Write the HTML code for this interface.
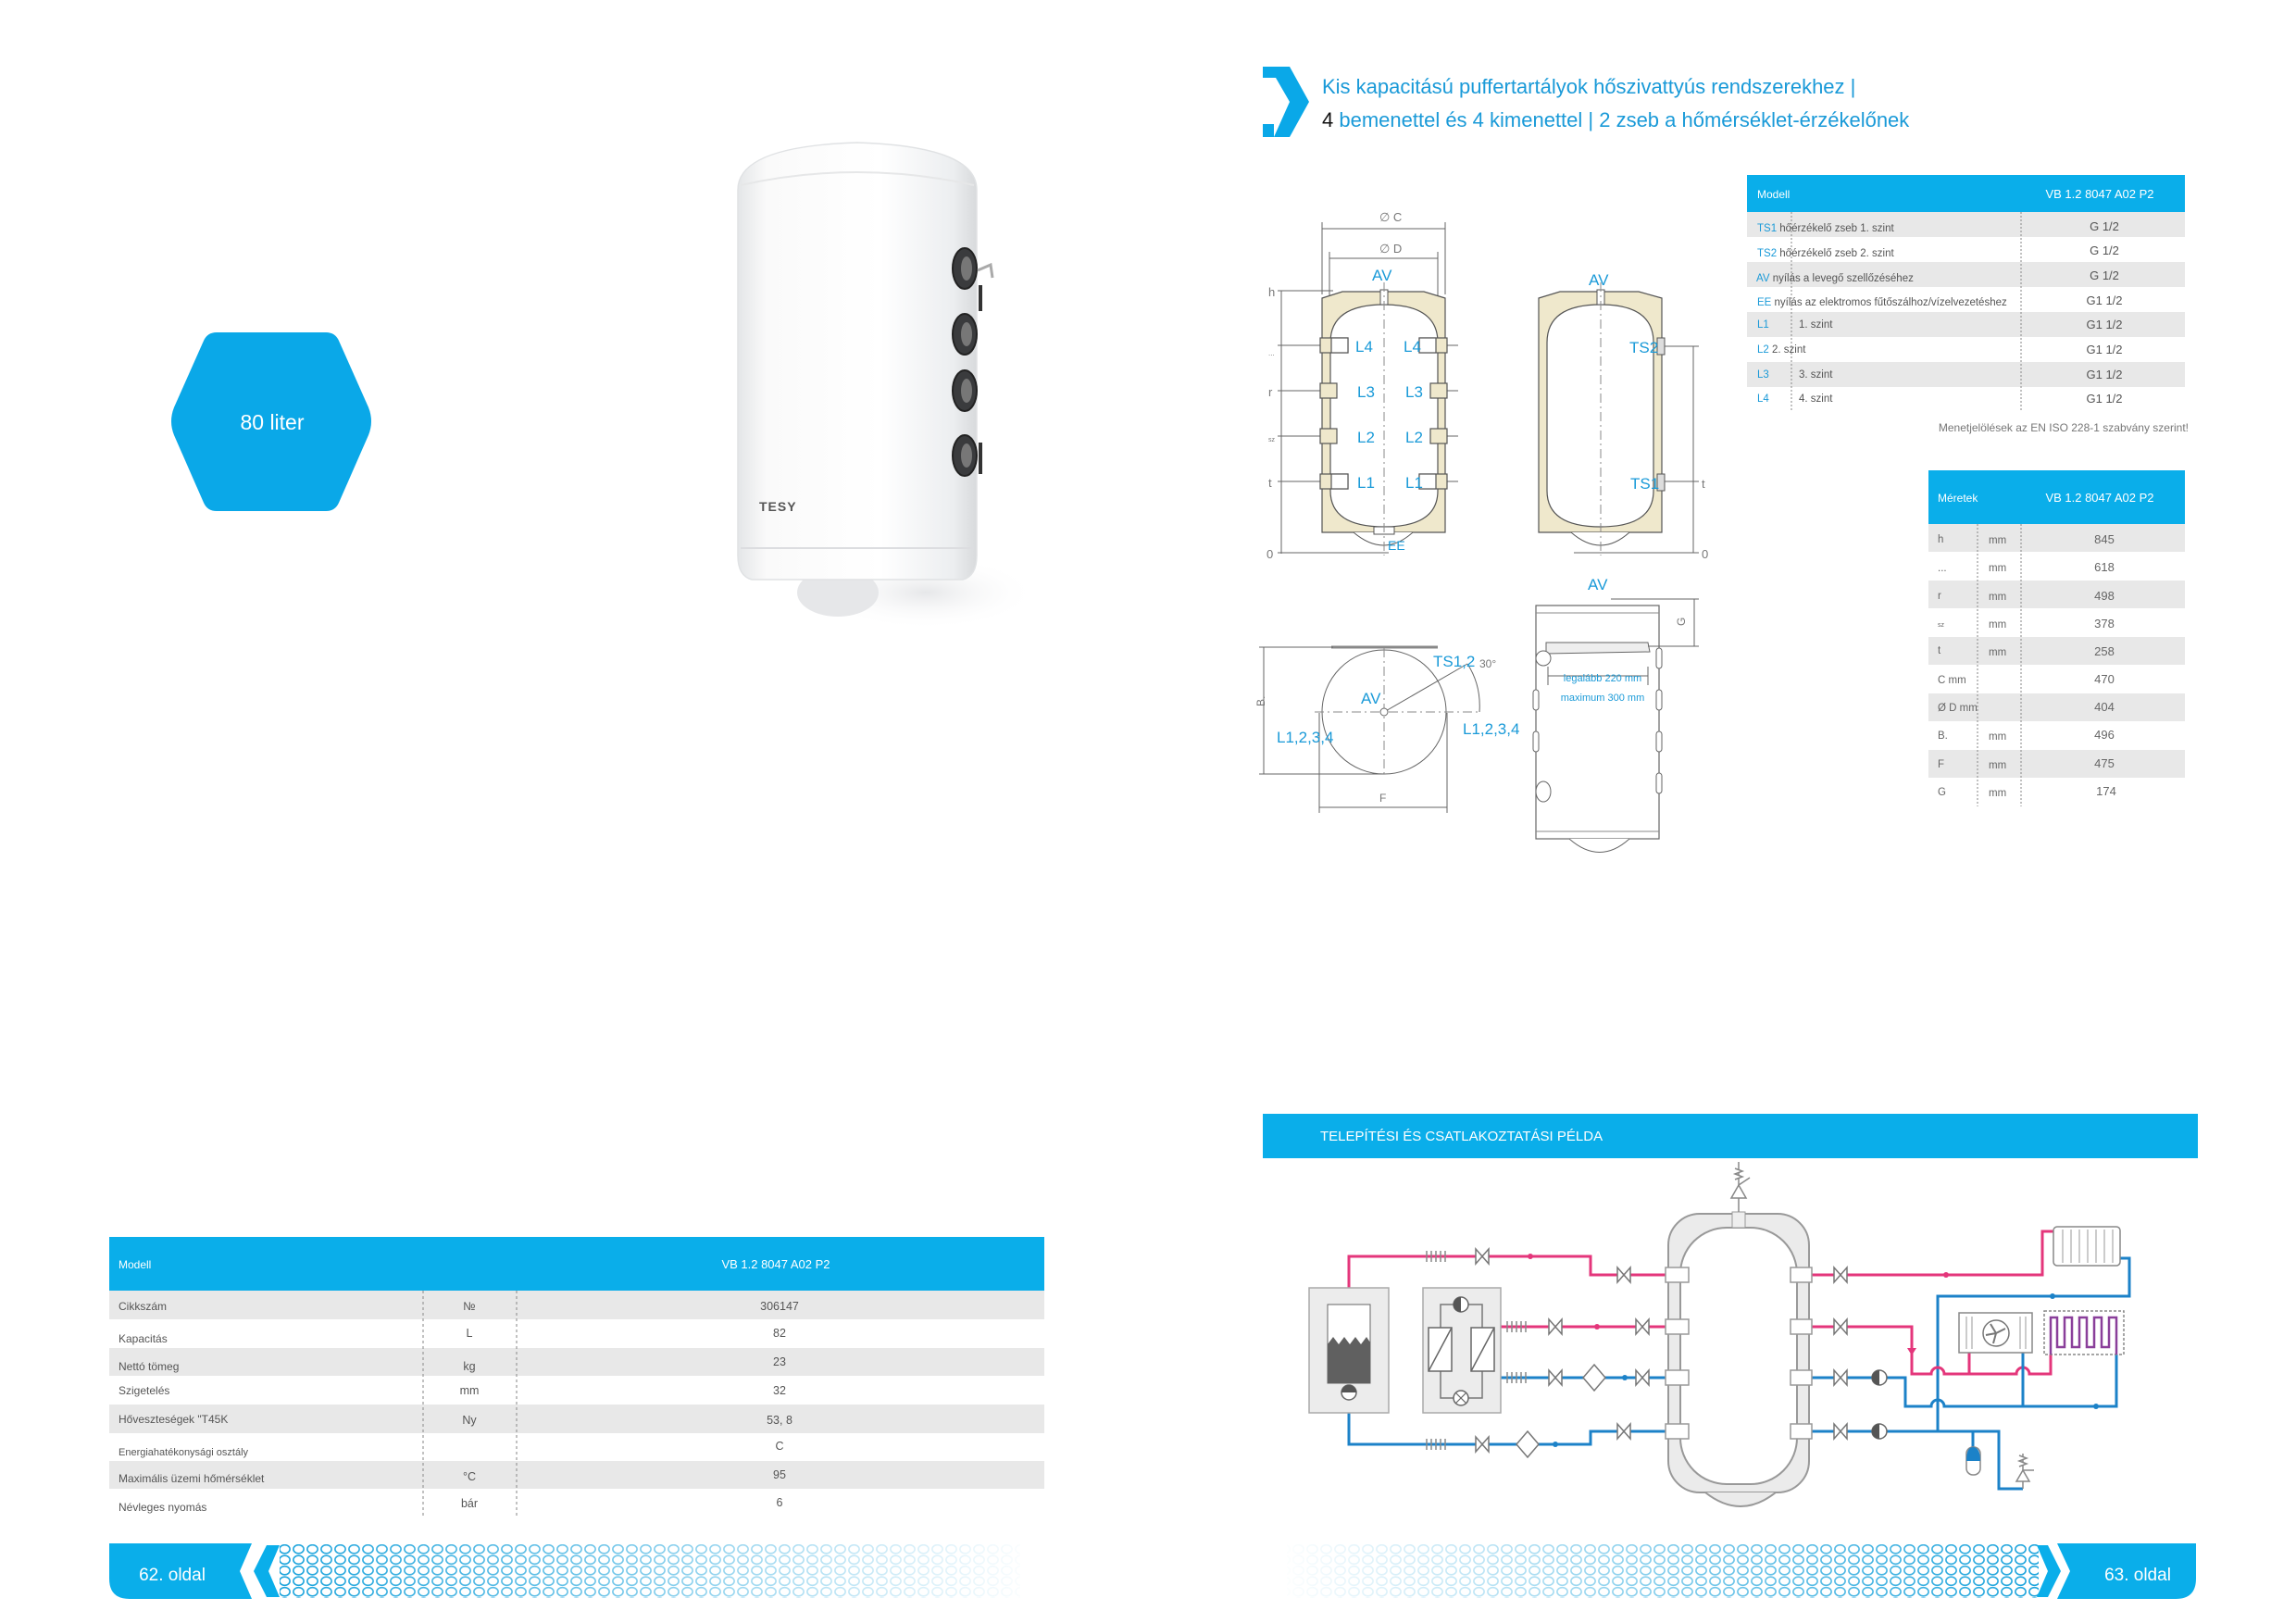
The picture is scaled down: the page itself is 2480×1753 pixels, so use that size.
<!DOCTYPE html>
<html><head><meta charset="utf-8"><style>
html,body{margin:0;padding:0;background:#fff;}
svg{display:block;font-family:"Liberation Sans",sans-serif;}
</style></head><body>
<svg width="2480" height="1753" viewBox="0 0 2480 1753" xmlns="http://www.w3.org/2000/svg">
<defs>
<pattern id="hc" width="15" height="11.5" patternUnits="userSpaceOnUse">
<ellipse cx="7.5" cy="5.75" rx="5.6" ry="4.6" fill="none" stroke="#1aa3dc" stroke-width="1.6"/>
</pattern>
<linearGradient id="gl" x1="0" x2="1" y1="0" y2="0"><stop offset="0" stop-color="#fff" stop-opacity="1"/><stop offset="0.45" stop-color="#fff" stop-opacity="0.6"/><stop offset="1" stop-color="#fff" stop-opacity="0"/></linearGradient>
<linearGradient id="gr" x1="1" x2="0" y1="0" y2="0"><stop offset="0" stop-color="#fff" stop-opacity="1"/><stop offset="0.45" stop-color="#fff" stop-opacity="0.6"/><stop offset="1" stop-color="#fff" stop-opacity="0"/></linearGradient>
<mask id="ml"><rect x="300" y="1660" width="820" height="75" fill="url(#gl)"/></mask>
<mask id="mr"><rect x="1380" y="1660" width="830" height="75" fill="url(#gr)"/></mask>
<linearGradient id="body" x1="0" x2="1"><stop offset="0" stop-color="#e4e6e8"/><stop offset="0.12" stop-color="#fafafa"/><stop offset="0.6" stop-color="#ffffff"/><stop offset="0.9" stop-color="#eceef0"/><stop offset="1" stop-color="#d8dadc"/></linearGradient>
<radialGradient id="sh"><stop offset="0" stop-color="#e6e7e9"/><stop offset="1" stop-color="#fff" stop-opacity="0"/></radialGradient>
</defs>

<!-- hexagon -->
<path d="M188,440 L220,368 Q224,359 234,359 L352,359 Q362,359 366,368 L398,440 Q404,455 398,470 L366,543 Q362,552 352,552 L234,552 Q224,552 220,543 L188,470 Q182,455 188,440 Z" fill="#0aa8e8"/>
<text x="294" y="464" font-size="23" fill="#fff" text-anchor="middle">80 liter</text>

<!-- tank photo -->
<ellipse cx="1000" cy="640" rx="120" ry="40" fill="url(#sh)"/>
<ellipse cx="905" cy="640" rx="44" ry="26" fill="#e6e7e9"/>
<path d="M797,205 Q797,158 926,154 Q1055,158 1055,205 L1055,600 Q1055,622 1040,626 L812,626 Q797,622 797,600 Z" fill="url(#body)" stroke="#e0e2e4" stroke-width="1.5"/>
<path d="M800,200 Q926,172 1052,200" fill="none" stroke="#e6e7e8" stroke-width="2"/>
<path d="M800,592 L1052,592" stroke="#dcdde0" stroke-width="2"/>
<g fill="#3a3b3d" stroke="#222" stroke-width="2">
<ellipse cx="1042" cy="290" rx="13" ry="22"/><ellipse cx="1042" cy="361" rx="13" ry="22"/><ellipse cx="1042" cy="422" rx="13" ry="22"/><ellipse cx="1042" cy="492" rx="13" ry="22"/>
</g>
<g fill="#777"><ellipse cx="1044" cy="290" rx="6" ry="13"/><ellipse cx="1044" cy="361" rx="6" ry="13"/><ellipse cx="1044" cy="422" rx="6" ry="13"/><ellipse cx="1044" cy="492" rx="6" ry="13"/></g>
<rect x="1057" y="308" width="4" height="28" fill="#333"/><rect x="1057" y="478" width="4" height="34" fill="#333"/>
<path d="M1056,292 L1070,286 L1072,300" fill="none" stroke="#aaa" stroke-width="3"/>
<text x="820" y="552" font-size="14" font-weight="bold" fill="#555" letter-spacing="1">TESY</text>

<!-- title -->
<path d="M1364,72 L1393,72 L1414,110 L1393,148 L1376,148 L1393,110 L1378,84 L1364,84 Z" fill="#0aa8e8"/>
<rect x="1364" y="134" width="12" height="14" fill="#0aa8e8"/>
<text x="1428" y="101" font-size="22" fill="#1a9ad8">Kis kapacitású puffertartályok hőszivattyús rendszerekhez |</text>
<text x="1428" y="137" font-size="22" fill="#1a9ad8"><tspan fill="#111">4</tspan> bemenettel és 4 kimenettel | 2 zseb a hőmérséklet-érzékelőnek</text>

<!-- table 1 -->
<rect x="1887" y="189" width="473" height="40" fill="#0aaeea"/>
<text x="1898" y="214" font-size="12" fill="#fff">Modell</text>
<text x="2268" y="214" font-size="13" fill="#fff" text-anchor="middle">VB 1.2 8047 A02 P2</text>
<g fill="#e8e8e8">
<rect x="1887" y="229" width="473" height="27"/><rect x="1887" y="283" width="473" height="27"/><rect x="1887" y="337" width="473" height="27"/><rect x="1887" y="391" width="473" height="27"/>
</g>
<g stroke="#999" stroke-width="1.2" stroke-dasharray="2,2"><line x1="1935" y1="229" x2="1935" y2="445"/><line x1="2183" y1="229" x2="2183" y2="445"/></g>
<g font-size="11.5" fill="#555">
<text x="1898" y="250"><tspan fill="#1a9ad8">TS1</tspan> hőérzékelő zseb 1. szint</text>
<text x="1898" y="277"><tspan fill="#1a9ad8">TS2</tspan> hőérzékelő zseb 2. szint</text>
<text x="1897" y="304"><tspan fill="#1a9ad8">AV</tspan> nyílás a levegő szellőzéséhez</text>
<text x="1898" y="330"><tspan fill="#1a9ad8">EE</tspan> nyílás az elektromos fűtőszálhoz/vízelvezetéshez</text>
<text x="1898" y="354"><tspan fill="#1a9ad8">L1</tspan></text><text x="1943" y="354">1. szint</text>
<text x="1898" y="381"><tspan fill="#1a9ad8">L2</tspan> 2. szint</text>
<text x="1898" y="408"><tspan fill="#1a9ad8">L3</tspan></text><text x="1943" y="408">3. szint</text>
<text x="1898" y="434"><tspan fill="#1a9ad8">L4</tspan></text><text x="1943" y="434">4. szint</text>
</g>
<g font-size="13" fill="#555" text-anchor="middle">
<text x="2273" y="249">G 1/2</text><text x="2273" y="275">G 1/2</text><text x="2273" y="302">G 1/2</text><text x="2273" y="329">G1 1/2</text><text x="2273" y="355">G1 1/2</text><text x="2273" y="382">G1 1/2</text><text x="2273" y="409">G1 1/2</text><text x="2273" y="435">G1 1/2</text>
</g>
<text x="2364" y="466" font-size="12" fill="#777" text-anchor="end">Menetjelölések az EN ISO 228-1 szabvány szerint!</text>

<!-- table 2 -->
<rect x="2083" y="508" width="277" height="58" fill="#0aaeea"/>
<text x="2093" y="542" font-size="12" fill="#fff">Méretek</text>
<text x="2268" y="542" font-size="13" fill="#fff" text-anchor="middle">VB 1.2 8047 A02 P2</text>
<g fill="#e8e8e8">
<rect x="2083" y="566" width="277" height="30"/><rect x="2083" y="627" width="277" height="30"/><rect x="2083" y="688" width="277" height="30"/><rect x="2083" y="749" width="277" height="30"/><rect x="2083" y="810" width="277" height="30"/>
</g>
<g stroke="#999" stroke-width="1.2" stroke-dasharray="2,2"><line x1="2136" y1="566" x2="2136" y2="871"/><line x1="2183" y1="566" x2="2183" y2="871"/></g>
<g font-size="11.5" fill="#666">
<text x="2093" y="586">h</text><text x="2093" y="617">...</text><text x="2093" y="647">r</text><text x="2093" y="677" font-size="7">sz</text><text x="2093" y="706">t</text><text x="2093" y="738">C mm</text><text x="2093" y="768">Ø D mm</text><text x="2093" y="798">B.</text><text x="2093" y="829">F</text><text x="2093" y="859">G</text>
<text x="2148" y="587">mm</text><text x="2148" y="617">mm</text><text x="2148" y="648">mm</text><text x="2148" y="678">mm</text><text x="2148" y="708">mm</text><text x="2148" y="799">mm</text><text x="2148" y="830">mm</text><text x="2148" y="860">mm</text>
</g>
<g font-size="13" fill="#666" text-anchor="middle">
<text x="2273" y="587">845</text><text x="2273" y="617">618</text><text x="2273" y="648">498</text><text x="2273" y="678">378</text><text x="2273" y="708">258</text><text x="2273" y="738">470</text><text x="2273" y="768">404</text><text x="2273" y="798">496</text><text x="2273" y="829">475</text><text x="2275" y="859">174</text>
</g>

<!-- technical drawings -->
<g stroke="#666" stroke-width="1" fill="none">
<line x1="1428" y1="247" x2="1561" y2="247"/><line x1="1436" y1="279" x2="1553" y2="279"/>
<line x1="1428" y1="240" x2="1428" y2="318"/><line x1="1561" y1="240" x2="1561" y2="318"/>
<line x1="1436" y1="272" x2="1436" y2="330"/><line x1="1553" y1="272" x2="1553" y2="330"/>
<line x1="1384" y1="314" x2="1384" y2="598"/><line x1="1380" y1="314" x2="1440" y2="314"/>
<line x1="1380" y1="597" x2="1500" y2="597"/>
<line x1="1380" y1="373" x2="1575" y2="373"/><line x1="1380" y1="422" x2="1575" y2="422"/><line x1="1380" y1="471" x2="1575" y2="471"/><line x1="1380" y1="520" x2="1575" y2="520"/>
</g>
<g font-size="13" fill="#777">
<text x="1490" y="239">∅ C</text><text x="1490" y="273">∅ D</text>
<text x="1370" y="320">h</text><text x="1370" y="384" font-size="8">...</text><text x="1370" y="428">r</text><text x="1370" y="477" font-size="7">sz</text><text x="1370" y="526">t</text><text x="1368" y="603">0</text>
</g>
<path d="M1428,322 L1450,315 L1538,315 L1561,322 L1561,575 L1428,575 Z" fill="#efe8cc" stroke="#555" stroke-width="1.2"/>
<path d="M1437,370 Q1437,329 1495,329 Q1553,329 1553,370 L1553,530 Q1553,569 1495,569 Q1437,569 1437,530 Z" fill="#fff" stroke="#555" stroke-width="1.2"/>
<path d="M1462,575 Q1495,603 1526,575" fill="#fff" stroke="#555"/>
<rect x="1491" y="313" width="8" height="16" fill="#fff" stroke="#555"/>
<rect x="1484" y="569" width="22" height="8" fill="#fff" stroke="#555"/>
<line x1="1495" y1="305" x2="1495" y2="600" stroke="#888" stroke-dasharray="10,4,2,4"/>
<g fill="#efe8cc" stroke="#555" stroke-width="1.2">
<rect x="1426" y="365" width="30" height="16"/><rect x="1438" y="365" width="18" height="16" fill="#fff"/>
<rect x="1426" y="414" width="18" height="16"/><rect x="1426" y="463" width="18" height="16"/>
<rect x="1426" y="512" width="30" height="16"/><rect x="1438" y="512" width="18" height="16" fill="#fff"/>
<rect x="1533" y="365" width="30" height="16"/><rect x="1533" y="365" width="18" height="16" fill="#fff"/>
<rect x="1545" y="414" width="18" height="16"/><rect x="1545" y="463" width="18" height="16"/>
<rect x="1533" y="512" width="30" height="16"/><rect x="1533" y="512" width="18" height="16" fill="#fff"/>
</g>
<g font-size="17" fill="#1a9ad8">
<text x="1482" y="303">AV</text>
<text x="1464" y="380">L4</text><text x="1516" y="380">L4</text>
<text x="1466" y="429">L3</text><text x="1518" y="429">L3</text>
<text x="1466" y="478">L2</text><text x="1518" y="478">L2</text>
<text x="1466" y="527">L1</text><text x="1518" y="527">L1</text>
<text x="1499" y="594" font-size="14">EE</text>
</g>
<path d="M1662,322 L1685,315 L1770,315 L1795,322 L1795,575 L1662,575 Z" fill="#efe8cc" stroke="#555" stroke-width="1.2"/>
<path d="M1671,370 Q1671,329 1729,329 Q1786,329 1786,370 L1786,530 Q1786,569 1729,569 Q1671,569 1671,530 Z" fill="#fff" stroke="#555" stroke-width="1.2"/>
<path d="M1697,575 Q1729,603 1760,575" fill="#fff" stroke="#555"/>
<rect x="1725" y="313" width="8" height="16" fill="#fff" stroke="#555"/>
<line x1="1729" y1="305" x2="1729" y2="600" stroke="#888" stroke-dasharray="10,4,2,4"/>
<rect x="1790" y="365" width="8" height="18" fill="#ddd" stroke="#555"/><rect x="1790" y="512" width="8" height="18" fill="#ddd" stroke="#555"/>
<g stroke="#666" fill="none"><line x1="1798" y1="374" x2="1835" y2="374"/><line x1="1798" y1="520" x2="1835" y2="520"/><line x1="1829" y1="374" x2="1829" y2="597"/><line x1="1700" y1="597" x2="1835" y2="597"/></g>
<g font-size="17" fill="#1a9ad8"><text x="1716" y="308">AV</text><text x="1760" y="381">TS2</text><text x="1761" y="528">TS1</text></g>
<g font-size="13" fill="#777"><text x="1838" y="527">t</text><text x="1838" y="603">0</text></g>
<g stroke="#666" fill="none">
<line x1="1438" y1="699" x2="1553" y2="699" stroke-width="3" stroke="#888"/>
<circle cx="1495" cy="769" r="67" fill="#fff"/>
<line x1="1495" y1="700" x2="1495" y2="836" stroke-dasharray="10,4,2,4" stroke="#888"/>
<line x1="1420" y1="769" x2="1600" y2="769" stroke-dasharray="10,4,2,4" stroke="#888"/>
<line x1="1495" y1="769" x2="1585" y2="717"/>
<path d="M1585,717 Q1600,740 1598,769"/>
<line x1="1365" y1="699" x2="1365" y2="836"/><line x1="1360" y1="699" x2="1440" y2="699"/><line x1="1360" y1="836" x2="1495" y2="836"/>
<line x1="1425" y1="872" x2="1563" y2="872"/><line x1="1425" y1="770" x2="1425" y2="878"/><line x1="1563" y1="770" x2="1563" y2="878"/>
</g>
<circle cx="1495" cy="769" r="4" fill="#fff" stroke="#666"/>
<g font-size="17" fill="#1a9ad8"><text x="1470" y="760">AV</text><text x="1548" y="720">TS1,2</text><text x="1379" y="802">L1,2,3,4</text><text x="1580" y="793">L1,2,3,4</text></g>
<g font-size="12" fill="#777"><text x="1598" y="721">30°</text><text x="1490" y="866">F</text><text x="1366" y="763" transform="rotate(-90 1366 763)">B.</text></g>
<rect x="1659" y="654" width="133" height="252" fill="#fff" stroke="#666" stroke-width="1.2"/>
<line x1="1659" y1="662" x2="1792" y2="662" stroke="#888"/><line x1="1659" y1="898" x2="1792" y2="898" stroke="#888"/>
<path d="M1695,906 Q1728,935 1760,906" fill="#fff" stroke="#666"/>
<path d="M1670,694 L1780,694 L1782,704 L1670,706 Z" fill="#eee" stroke="#666"/>
<circle cx="1667" cy="711" r="8" fill="#fff" stroke="#666"/><ellipse cx="1667" cy="855" rx="8" ry="11" fill="#fff" stroke="#666"/>
<g stroke="#666" fill="none"><line x1="1672" y1="730" x2="1780" y2="730"/><line x1="1672" y1="720" x2="1672" y2="740"/><line x1="1780" y1="720" x2="1780" y2="740"/>
<line x1="1740" y1="647" x2="1835" y2="647"/><line x1="1780" y1="698" x2="1835" y2="698"/><line x1="1830" y1="647" x2="1830" y2="698"/></g>
<g fill="#fff" stroke="#666"><rect x="1789" y="700" width="6" height="22" rx="3"/><rect x="1789" y="745" width="6" height="22" rx="3"/><rect x="1789" y="790" width="6" height="22" rx="3"/><rect x="1789" y="835" width="6" height="22" rx="3"/><rect x="1656" y="745" width="6" height="22" rx="3"/><rect x="1656" y="790" width="6" height="22" rx="3"/></g>
<text x="1715" y="637" font-size="17" fill="#1a9ad8">AV</text>
<text x="1731" y="736" font-size="11" fill="#1a9ad8" text-anchor="middle">legalább 220 mm</text>
<text x="1731" y="757" font-size="11" fill="#1a9ad8" text-anchor="middle">maximum 300 mm</text>
<text x="1820" y="676" font-size="12" fill="#777" transform="rotate(-90 1820 676)">G</text>

<!-- section header -->
<rect x="1364" y="1203" width="1010" height="48" fill="#0aaeea"/>
<text x="1426" y="1232" font-size="15" fill="#fff">TELEPÍTÉSI ÉS CSATLAKOZTATÁSI PÉLDA</text>

<!-- installation diagram -->
<g stroke-width="3" fill="none">
<path d="M1457,1409 V1357 H1718 V1377 H1800" stroke="#e4367b"/>
<path d="M1621,1433 H1800" stroke="#e4367b"/>
<path d="M1621,1488 H1800" stroke="#1c82c8"/>
<path d="M1457,1512 V1560 H1718 V1546 H1800" stroke="#1c82c8"/>
<path d="M1957,1377 H2206 V1330 H2218" stroke="#e4367b"/>
<path d="M2290,1359 H2300 V1400 H2093 V1546" stroke="#1c82c8"/>
<path d="M1957,1433 H2065 V1484 H2086 A7,7 0 0 1 2100,1484 H2178 A7,7 0 0 1 2192,1484 H2215 V1463" stroke="#e4367b"/>
<path d="M2127,1461 V1484" stroke="#e4367b"/>
<path d="M1957,1488 H2058 V1519 H2086 A7,7 0 0 1 2100,1519 H2286 V1463" stroke="#1c82c8"/>
<path d="M2185,1461 V1519" stroke="#1c82c8"/>
<path d="M1957,1546 H2159 V1608 H2185" stroke="#1c82c8"/>
<path d="M2131,1546 V1563" stroke="#1c82c8"/>
</g>
<rect x="1802" y="1311" width="152" height="301" rx="34" fill="#ebebeb" stroke="#999" stroke-width="2"/>
<rect x="1815" y="1326" width="126" height="277" rx="50" fill="#fff" stroke="#999" stroke-width="2"/>
<path d="M1842,1612 Q1880,1642 1918,1612" fill="#ebebeb" stroke="#999" stroke-width="2"/>
<rect x="1871" y="1309" width="14" height="17" fill="#eee" stroke="#999"/>
<g stroke="#888" stroke-width="1.5" fill="#fff">
<line x1="1878" y1="1309" x2="1878" y2="1255"/>
<path d="M1870,1294 L1886,1294 L1878,1280 Z M1878,1280 L1890,1272"/>
<path d="M1874,1262 l8,3 l-8,3 l8,3 l-8,3"/>
</g>
<g fill="#fff" stroke="#999" stroke-width="1.5">
<rect x="1799" y="1369" width="25" height="16"/><rect x="1799" y="1425" width="25" height="16"/><rect x="1799" y="1480" width="25" height="16"/><rect x="1799" y="1538" width="25" height="16"/>
<rect x="1934" y="1369" width="23" height="16"/><rect x="1934" y="1425" width="23" height="16"/><rect x="1934" y="1480" width="23" height="16"/><rect x="1934" y="1538" width="23" height="16"/>
</g>
<rect x="1414" y="1391" width="86" height="135" fill="#ececec" stroke="#aaa" stroke-width="1.5"/>
<rect x="1434" y="1409" width="46" height="85" fill="#fff" stroke="#666"/>
<path d="M1434,1452 L1440,1444 L1446,1452 L1452,1444 L1458,1452 L1464,1444 L1470,1452 L1476,1444 L1480,1450 L1480,1494 L1434,1494 Z" fill="#606060"/>
<rect x="1537" y="1391" width="84" height="135" fill="#ececec" stroke="#aaa" stroke-width="1.5"/>
<g stroke="#777" stroke-width="1.5" fill="none"><path d="M1556,1409 H1601 V1510 H1556 Z"/></g>
<g fill="#fff" stroke="#666" stroke-width="1.5">
<rect x="1543" y="1434" width="25" height="47"/><rect x="1589" y="1434" width="25" height="47"/>
<line x1="1543" y1="1481" x2="1568" y2="1434"/><line x1="1589" y1="1481" x2="1614" y2="1434"/>
<circle cx="1578" cy="1409" r="8"/><circle cx="1578" cy="1510" r="8"/>
<circle cx="1457" cy="1504" r="8"/><circle cx="2030" cy="1488" r="8"/><circle cx="2030" cy="1546" r="8"/>
</g>
<g fill="#555"><path d="M1578,1401 A8,8 0 0 0 1578,1417 Z"/><path d="M1449,1504 A8,8 0 0 1 1465,1504 Z"/><path d="M2030,1480 A8,8 0 0 0 2030,1496 Z"/><path d="M2030,1538 A8,8 0 0 0 2030,1554 Z"/></g>
<g stroke="#666" stroke-width="1.2"><line x1="1572" y1="1504" x2="1584" y2="1516"/><line x1="1584" y1="1504" x2="1572" y2="1516"/></g>
<g fill="#fff" stroke="#777" stroke-width="1.5">
<path d="M1594,1349 L1608,1365 L1608,1349 L1594,1365 Z"/>
<path d="M1747,1369 L1761,1385 L1761,1369 L1747,1385 Z"/>
<path d="M1673,1425 L1687,1441 L1687,1425 L1673,1441 Z"/>
<path d="M1767,1425 L1781,1441 L1781,1425 L1767,1441 Z"/>
<path d="M1673,1480 L1687,1496 L1687,1480 L1673,1496 Z"/>
<path d="M1767,1480 L1781,1496 L1781,1480 L1767,1496 Z"/>
<path d="M1594,1552 L1608,1568 L1608,1552 L1594,1568 Z"/>
<path d="M1747,1538 L1761,1554 L1761,1538 L1747,1554 Z"/>
<path d="M1981,1369 L1995,1385 L1995,1369 L1981,1385 Z"/>
<path d="M1981,1425 L1995,1441 L1995,1425 L1981,1441 Z"/>
<path d="M1981,1480 L1995,1496 L1995,1480 L1981,1496 Z"/>
<path d="M1981,1538 L1995,1554 L1995,1538 L1981,1554 Z"/>
<path d="M1722,1474 L1734,1488 L1722,1502 L1710,1488 Z"/>
<path d="M1650,1546 L1662,1560 L1650,1574 L1638,1560 Z"/>
</g>
<g stroke="#888" stroke-width="1.5">
<path d="M1541,1351 v12 M1546,1351 v12 M1551,1351 v12 M1556,1351 v12 M1561,1351 v12"/>
<path d="M1628,1427 v12 M1633,1427 v12 M1638,1427 v12 M1643,1427 v12 M1648,1427 v12"/>
<path d="M1628,1482 v12 M1633,1482 v12 M1638,1482 v12 M1643,1482 v12 M1648,1482 v12"/>
<path d="M1541,1554 v12 M1546,1554 v12 M1551,1554 v12 M1556,1554 v12 M1561,1554 v12"/>
</g>
<g fill="#e4367b"><circle cx="1653" cy="1357" r="3"/><circle cx="1725" cy="1433" r="3"/><circle cx="2102" cy="1377" r="3"/><path d="M2060,1456 h10 l-5,8 z"/></g>
<g fill="#1c82c8"><circle cx="1680" cy="1560" r="3"/><circle cx="1755" cy="1488" r="3"/><circle cx="2217" cy="1400" r="3"/><circle cx="2264" cy="1519" r="3"/></g>
<rect x="2218" y="1325" width="72" height="42" rx="4" fill="#fff" stroke="#888" stroke-width="1.5"/>
<g stroke="#999"><path d="M2228,1328 v36 M2237,1328 v36 M2246,1328 v36 M2255,1328 v36 M2264,1328 v36 M2273,1328 v36 M2282,1328 v36"/></g>
<rect x="2116" y="1418" width="79" height="43" fill="#fff" stroke="#888" stroke-width="1.5"/>
<g stroke="#999"><path d="M2124,1422 v35 M2130,1422 v35 M2182,1422 v35 M2188,1422 v35"/></g>
<circle cx="2156" cy="1440" r="14" fill="#fff" stroke="#777" stroke-width="1.5"/>
<path d="M2156,1440 l-6,-10 M2156,1440 l10,-5 M2156,1440 l-3,11 M2156,1440 l-11,2" stroke="#777" stroke-width="2"/>
<rect x="2208" y="1416" width="86" height="47" fill="none" stroke="#888" stroke-width="1.5" stroke-dasharray="3,2"/>
<path d="M2215,1463 V1423 H2222 V1455 H2230 V1423 H2238 V1455 H2246 V1423 H2254 V1455 H2262 V1423 H2270 V1455 H2278 V1423 H2286 V1463" fill="none" stroke="#8a3f9a" stroke-width="2.5"/>
<rect x="2124" y="1563" width="15" height="30" rx="7" fill="#fff" stroke="#888" stroke-width="1.5"/>
<path d="M2124,1578 Q2124,1563 2131,1563 Q2139,1563 2139,1578 Z" fill="#1c82c8"/>
<g stroke="#888" stroke-width="1.5" fill="#fff">
<line x1="2185" y1="1608" x2="2185" y2="1570"/>
<path d="M2178,1600 L2192,1600 L2185,1588 Z M2185,1588 L2197,1588"/>
<path d="M2181,1572 l8,3 l-8,3 l8,3 l-8,3"/>
</g>

<!-- bottom-left table -->
<rect x="118" y="1336" width="1010" height="58" fill="#0aaeea"/>
<text x="128" y="1370" font-size="12" fill="#fff">Modell</text>
<text x="838" y="1370" font-size="13" fill="#fff" text-anchor="middle">VB 1.2 8047 A02 P2</text>
<g fill="#e8e8e8">
<rect x="118" y="1394" width="1010" height="31"/><rect x="118" y="1456" width="1010" height="30"/><rect x="118" y="1517" width="1010" height="31"/><rect x="118" y="1578" width="1010" height="30"/>
</g>
<g stroke="#999" stroke-width="1.2" stroke-dasharray="3,3"><line x1="457" y1="1394" x2="457" y2="1640"/><line x1="558" y1="1394" x2="558" y2="1640"/></g>
<g font-size="12" fill="#555">
<text x="128" y="1415">Cikkszám</text><text x="128" y="1450">Kapacitás</text><text x="128" y="1480">Nettó tömeg</text><text x="128" y="1506">Szigetelés</text><text x="128" y="1537">Hőveszteségek "T45K</text><text x="128" y="1572" font-size="11">Energiahatékonysági osztály</text><text x="128" y="1601">Maximális üzemi hőmérséklet</text><text x="128" y="1632">Névleges nyomás</text>
</g>
<g font-size="12.5" fill="#555" text-anchor="middle">
<text x="507" y="1415">№</text><text x="507" y="1444">L</text><text x="507" y="1480">kg</text><text x="507" y="1506">mm</text><text x="507" y="1538">Ny</text><text x="507" y="1599">°C</text><text x="507" y="1628">bár</text>
<text x="842" y="1415">306147</text><text x="842" y="1444">82</text><text x="842" y="1475">23</text><text x="842" y="1506">32</text><text x="842" y="1538">53, 8</text><text x="842" y="1566">C</text><text x="842" y="1597">95</text><text x="842" y="1627">6</text>
</g>

<!-- footer left -->
<path d="M118,1667 L272,1667 L259,1697 L272,1727 L140,1727 Q118,1727 118,1705 Z" fill="#0aaeea"/>
<path d="M302,1669 L288,1669 L274,1697 L288,1725 L302,1725 L290,1697 Z" fill="#0aaeea"/>
<rect x="302" y="1668" width="800" height="58" fill="url(#hc)" mask="url(#ml)"/>
<text x="186" y="1707" font-size="19" fill="#fff" text-anchor="middle">62. oldal</text>
<!-- footer right -->
<rect x="1390" y="1668" width="812" height="58" fill="url(#hc)" mask="url(#mr)"/>
<path d="M2200,1669 L2212,1669 L2226,1697 L2212,1725 L2200,1725 L2212,1697 Z" fill="#0aaeea"/>
<path d="M2222,1667 L2372,1667 L2372,1705 Q2372,1727 2350,1727 L2222,1727 L2236,1697 Z" fill="#0aaeea"/>
<text x="2309" y="1707" font-size="19" fill="#fff" text-anchor="middle">63. oldal</text>
</svg>
</body></html>
